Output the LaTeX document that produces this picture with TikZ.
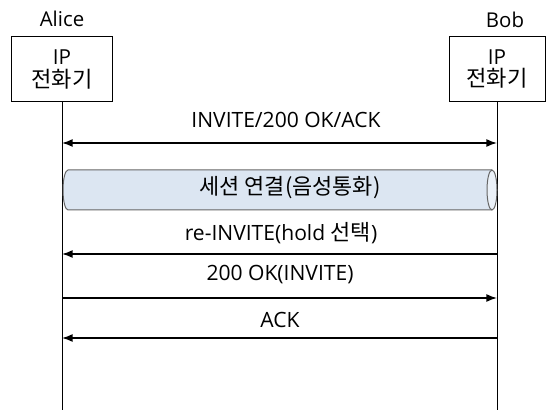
\documentclass[tikz,border=0pt]{standalone}
\usepackage{fontspec}
\setmainfont{Open Sans}
\newfontfamily\kr[Scale=1.04]{Noto Sans CJK KR}
\newfontfamily\krbox[Scale=1.07]{Noto Sans CJK KR}
\usetikzlibrary{arrows.meta}
\definecolor{pipeblue}{HTML}{DCE6F2}
\definecolor{pipeend}{HTML}{EBF1F8}
\definecolor{pipeedge}{HTML}{666666}
\tikzset{
    phone/.style={draw, line width=0.75pt, minimum height=48.75pt, align=center, inner sep=0pt,
        font=\fontsize{15.5}{17}\selectfont},
    partname/.style={inner sep=0pt, font=\fontsize{15.3}{15}\selectfont},
    lifeline/.style={line width=0.75pt},
    msg/.style={line width=1.1pt, -{Latex[length=8pt,width=6pt]}},
    label/.style={inner sep=0pt},
}
\begin{document}
\fontsize{15.8}{18}\selectfont
\begin{tikzpicture}[x=0.75pt,y=-0.75pt]
    \useasboundingbox (0,0) rectangle (556,416);
    % endpoints
    \node[phone, minimum width=75.75pt] (alice) at (62,69.5) {IP\\{\krbox 전화기}};
    \node[phone, minimum width=72pt] (bob) at (497,69) {IP\\{\krbox 전화기}};
    \node[partname] (alicename) at (62,19) {Alice};
    \node[partname] (bobname) at (505,20) {Bob};
    \coordinate (aend) at (62,410);
    \coordinate (bend) at (497,410);
    \draw[lifeline] (alice) -- (aend);
    \draw[lifeline] (bob) -- (bend);
    % call setup
    \coordinate (a1) at (62,143);
    \coordinate (b1) at (497,143);
    \draw[msg, {Latex[length=8pt,width=6pt]}-{Latex[length=8pt,width=6pt]}] (a1) -- (b1);
    \node[label] (m1) at (286,120) {INVITE/200 OK/ACK};
    % session pipe
    \fill[pipeblue] (68,170) rectangle (492,210);
    \fill[pipeblue] (68,190) ellipse [x radius=5, y radius=20];
    \draw[pipeedge, line width=0.75pt] (492,170) -- (68,170)
        arc [start angle=-90, end angle=-270, x radius=5, y radius=20] -- (492,210);
    \draw[pipeedge, line width=0.75pt, fill=pipeend] (492,190) ellipse [x radius=5, y radius=20];
    \node[label] (m2) at (290,188) {\kr 세션 연결(음성통화)};
    % hold
    \coordinate (a3) at (62,254);
    \coordinate (b3) at (497,254);
    \draw[msg] (b3) -- (a3);
    \node[label] (m3) at (281,233) {re-INVITE(hold {\kr 선택})};
    \coordinate (a4) at (62,298);
    \coordinate (b4) at (497,298);
    \draw[msg] (a4) -- (b4);
    \node[label] (m4) at (280,275) {200 OK(INVITE)};
    \coordinate (a5) at (62,338);
    \coordinate (b5) at (497,338);
    \draw[msg] (b5) -- (a5);
    \node[label] (m5) at (280,320) {ACK};
\end{tikzpicture}
\end{document}
